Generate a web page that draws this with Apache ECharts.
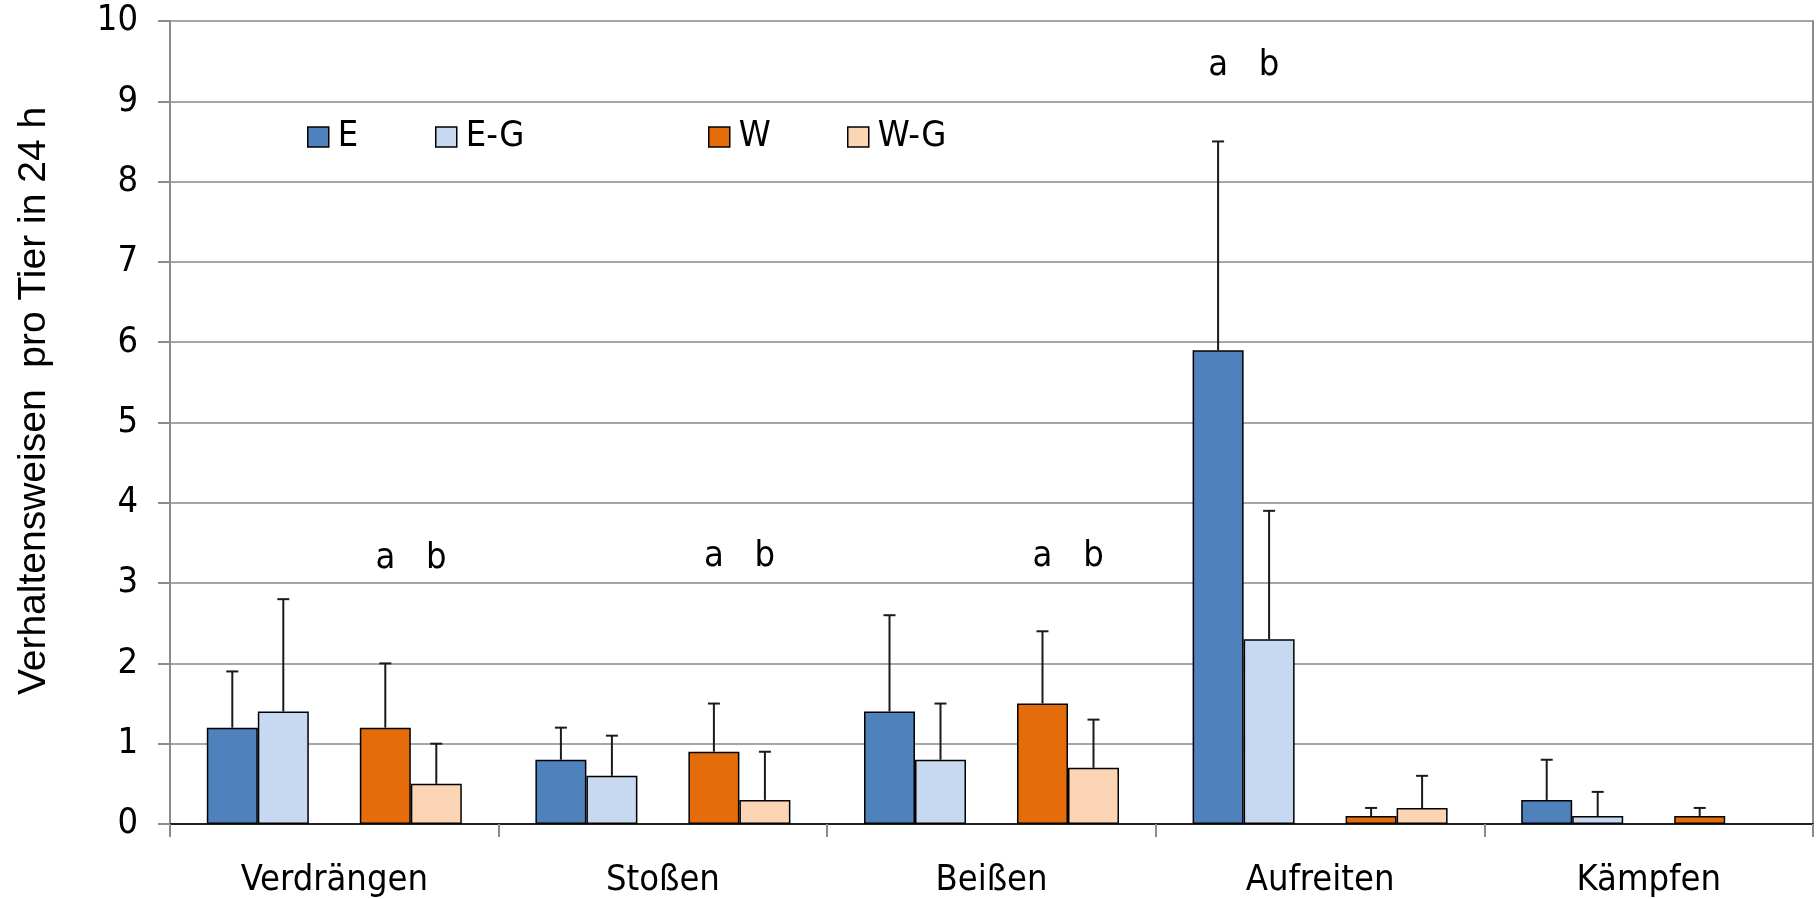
<!DOCTYPE html>
<html>
<head>
<meta charset="utf-8">
<script src="https://cdn.jsdelivr.net/npm/echarts@6/dist/echarts.min.js"></script>
<style>
html,body{margin:0;padding:0;background:#fff;}
#c{width:1817px;height:899px;}
</style>
</head>
<body>
<div id="c"></div>
<script>
// ---- data ----
const categories = ['Verdrängen', 'Stoßen', 'Beißen', 'Aufreiten', 'Kämpfen'];
const seriesNames = ['E', 'E-G', 'W', 'W-G'];
const valuesE  = [1.2, 0.8, 1.4, 5.9, 0.3];
const valuesEG = [1.4, 0.6, 0.8, 2.3, 0.1];
const valuesW  = [1.2, 0.9, 1.5, 0.1, 0.1];
const valuesWG = [0.5, 0.3, 0.7, 0.2, null];
// upper ends of the error bars
const upperE  = [1.9, 1.2, 2.6, 8.5, 0.8];
const upperEG = [2.8, 1.1, 1.5, 3.9, 0.4];
const upperW  = [2.0, 1.5, 2.4, 0.2, 0.2];
const upperWG = [1.0, 0.9, 1.3, 0.6, null];
// significance letters: category index, bar slot, y value, letter
const letterCats   = [0, 0, 1, 1, 2, 2, 3, 3];
const letterSlots  = [3, 4, 3, 4, 3, 4, 0, 1];
const letterY      = [3.3, 3.3, 3.33, 3.33, 3.33, 3.33, 9.45, 9.45];
const letterText   = ['a', 'b', 'a', 'b', 'a', 'b', 'a', 'b'];
const yTicks = [0, 1, 2, 3, 4, 5, 6, 7, 8, 9, 10];
const yTitle = 'Verhaltensweisen  pro Tier in 24 h';

// ---- style ----
const colors = ['#4F81BD', '#C6D9F1', '#E46C0A', '#FCD5B5'];
const FONT = '"DejaVu Sans Condensed", "DejaVu Sans", sans-serif';
const FS = 36;
const GAP = 0.224;   // category gap fraction
const NSLOTS = 5;    // E, E-G, (empty), W, W-G

const valueSets = [valuesE, valuesEG, valuesW, valuesWG];
const upperSets = [upperE, upperEG, upperW, upperWG];
const slotOf = [0, 1, 3, 4];

const errData = [];
valueSets.forEach((vals, s) => {
  vals.forEach((v, i) => {
    if (v != null && upperSets[s][i] != null) errData.push([i, slotOf[s], v, upperSets[s][i]]);
  });
});
const letterData = letterCats.map((c, i) => [c, letterSlots[i], letterY[i]]);

function slotX(api, cat, slot) {
  const p = api.coord([cat, 0]);
  const band = api.size([1, 0])[0];
  const used = band * (1 - GAP);
  const bw = used / NSLOTS;
  return p[0] - used / 2 + (slot + 0.5) * bw;
}

const barSeries = [];
[0, 1, null, 2, 3].forEach((s) => {
  if (s === null) {
    barSeries.push({ type: 'bar', name: '_gap', data: categories.map(() => null), barGap: '0%', barCategoryGap: (GAP * 100) + '%' });
  } else {
    barSeries.push({
      type: 'bar', name: seriesNames[s], data: valueSets[s],
      barGap: '0%', barCategoryGap: (GAP * 100) + '%',
      itemStyle: { color: colors[s], borderColor: '#000', borderWidth: 1.5 },
      emphasis: { disabled: true }
    });
  }
});

const legendLefts = [307, 435, 708, 847];
const legends = seriesNames.map((n, i) => ({
  left: legendLefts[i], top: 119, orient: 'horizontal', padding: 0,
  data: [{ name: n, icon: 'rect' }], itemWidth: 21, itemHeight: 20, selectedMode: false,
  itemStyle: { borderColor: '#000', borderWidth: 1.5 },
  textStyle: { fontFamily: FONT, fontSize: FS, color: '#000', padding: [0, 0, 0, 4] }
}));

const option = {
  animation: false,
  backgroundColor: '#fff',
  color: colors,
  legend: legends,
  grid: { left: 170, right: 4, top: 21, bottom: 74, containLabel: false },
  xAxis: [{
    type: 'category', data: categories,
    axisLine: { lineStyle: { color: '#8c8c8c', width: 2 } },
    axisTick: { show: true, length: 13, lineStyle: { color: '#8c8c8c', width: 2 } },
    axisLabel: { fontFamily: FONT, fontSize: FS, color: '#000', margin: 39 },
    splitLine: { show: false }
  }, {
    type: 'category', data: categories, position: 'top',
    axisLine: { show: true, lineStyle: { color: '#222', width: 2 } },
    axisTick: { show: false }, axisLabel: { show: false }
  }],
  yAxis: [{
    type: 'value', min: yTicks[0], max: yTicks[yTicks.length - 1], interval: 1,
    axisLine: { show: true, lineStyle: { color: '#8c8c8c', width: 2 } },
    axisTick: { show: true, length: 12, lineStyle: { color: '#8c8c8c', width: 2 } },
    axisLabel: { fontFamily: FONT, fontSize: FS, color: '#000', margin: 32 },
    splitLine: { show: true, lineStyle: { color: '#a6a6a6', width: 2 } }
  }, {
    type: 'value', min: 0, max: 10, interval: 1, position: 'right',
    axisLine: { show: true, lineStyle: { color: '#8c8c8c', width: 2 } },
    axisTick: { show: false }, axisLabel: { show: false }, splitLine: { show: false }
  }],
  graphic: [{
    type: 'text', x: 34, y: 401, rotation: Math.PI / 2,
    style: { text: yTitle, font: '39px "Liberation Sans", Arial, sans-serif', fill: '#000', align: 'center', verticalAlign: 'middle' }
  }],
  series: barSeries.concat([{
    type: 'custom', name: 'err', data: errData, z: 5,
    encode: { x: 0, y: 2 },
    renderItem: function (params, api) {
      const cat = api.value(0), slot = api.value(1);
      const x = slotX(api, cat, slot);
      const y0 = api.coord([cat, api.value(2)])[1];
      const y1 = api.coord([cat, api.value(3)])[1];
      const st = { stroke: '#1a1a1a', lineWidth: 2 };
      return { type: 'group', children: [
        { type: 'line', shape: { x1: x, y1: y0, x2: x, y2: y1 }, style: st },
        { type: 'line', shape: { x1: x - 6, y1: y1, x2: x + 6, y2: y1 }, style: st }
      ] };
    }
  }, {
    type: 'custom', name: 'letters', data: letterData, z: 6,
    encode: { x: 0, y: 2 },
    renderItem: function (params, api) {
      const cat = api.value(0), slot = api.value(1);
      const x = slotX(api, cat, slot);
      const y = api.coord([cat, api.value(2)])[1];
      return { type: 'text', x: x, y: y,
        style: { text: letterText[params.dataIndex], font: FS + 'px ' + FONT, fill: '#000', align: 'center', verticalAlign: 'middle' } };
    }
  }])
};

const chart = echarts.init(document.getElementById('c'), null, { renderer: 'canvas' });
chart.setOption(option);
</script>
</body>
</html>
